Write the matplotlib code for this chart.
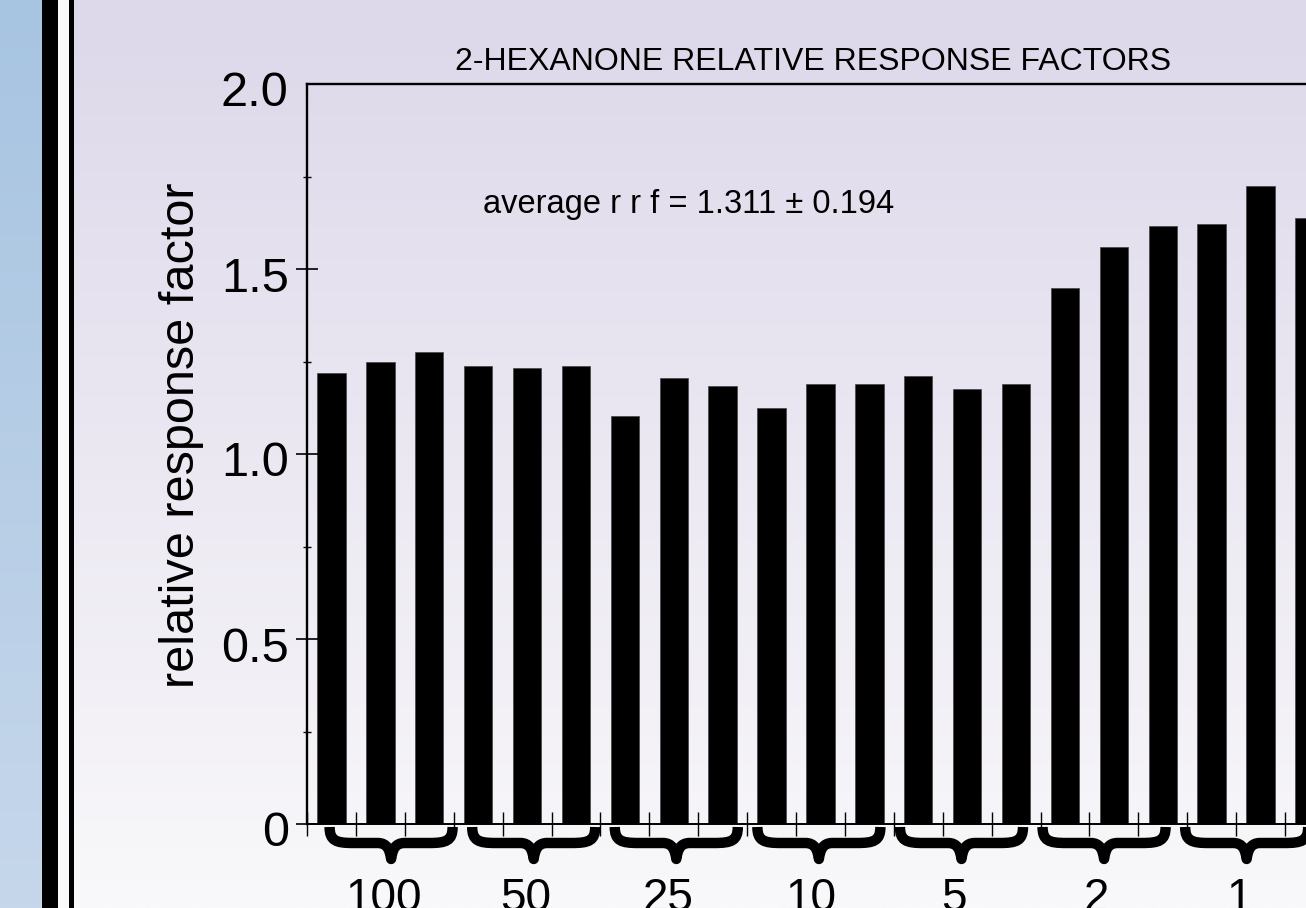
import numpy as np
import matplotlib
matplotlib.use("Agg")
import matplotlib.pyplot as plt
from matplotlib.path import Path
from matplotlib.patches import PathPatch, Rectangle
from matplotlib.transforms import ScaledTranslation

plt.rcParams['font.family'] = ['Liberation Sans', 'DejaVu Sans']

# ---------------- data ----------------
concentrations = ["100", "50", "25", "10", "5", "2", "1"]
rrf_values = [1.219, 1.249, 1.276,
              1.238, 1.232, 1.238,
              1.103, 1.205, 1.184,
              1.124, 1.189, 1.189,
              1.211, 1.176, 1.189,
              1.449, 1.559, 1.616,
              1.622, 1.724, 1.638]
y_ticks = [0, 0.5, 1.0, 1.5, 2.0]
y_ticklabels = ["0", "0.5", "1.0", "1.5", "2.0"]
y_minor = [0.25, 0.75, 1.25, 1.75]
title = "2-HEXANONE RELATIVE RESPONSE FACTORS"
ylabel = "relative response factor"
note = "average r r f = 1.311 \u00b1 0.194"

# ---------------- layout ----------------
W, H = 1306, 908
fig = plt.figure(figsize=(W / 100, H / 100), dpi=100)

def fx(px):
    return px / W

def fy(py):
    return 1 - py / H

# background
bg = fig.add_axes([0, 0, 1, 1])
bg.axis('off')
top_c = np.array([221, 216, 234]) / 255
bot_c = np.array([249, 248, 250]) / 255
t = np.linspace(0, 1, 256)[:, None, None]
grad = top_c * (1 - t) + bot_c * t
bg.imshow(grad, extent=(74, W, H, 0), aspect='auto', interpolation='bilinear')
btop = np.array([167, 196, 225]) / 255
bbot = np.array([198, 215, 235]) / 255
bgrad = btop * (1 - t) + bbot * t
bg.imshow(bgrad, extent=(0, 42, H, 0), aspect='auto', interpolation='bilinear')
bg.add_patch(Rectangle((42, 0), 16, H, color='black', lw=0))
bg.add_patch(Rectangle((58, 0), 11, H, color='#fafafa', lw=0))
bg.add_patch(Rectangle((69, 0), 5, H, color='black', lw=0))
bg.set_xlim(0, W)
bg.set_ylim(H, 0)

# main axes
unit = 48.9
x0, ybase, ytop = 307, 824, 84
xmax = 21.3
ax = fig.add_axes([fx(x0), fy(ybase), xmax * unit / W, (ybase - ytop) / H])
ax.patch.set_alpha(0)
ax.set_xlim(0, xmax)
ax.set_ylim(0, 2)

xpos = np.arange(len(rrf_values)) + 0.5
ax.bar(xpos, rrf_values, width=0.58, color='black', edgecolor='#444444', linewidth=0.5)

for s in ['left', 'top']:
    ax.spines[s].set_linewidth(1.7)
ax.spines['bottom'].set_linewidth(1.4)
ax.spines['right'].set_visible(False)

ax.set_yticks(y_ticks)
ax.set_yticklabels(y_ticklabels)
ax.set_yticks(y_minor, minor=True)
ax.tick_params(axis='y', which='major', direction='inout', length=16, width=1.2,
               labelsize=35, pad=3)
ax.tick_params(axis='y', which='minor', direction='inout', length=5.5, width=1.0)
ax.yaxis.get_major_ticks()[-1].tick1line.set_visible(False)
shift = ScaledTranslation(-0.03, -0.05, fig.dpi_scale_trans)
for lbl in ax.get_yticklabels():
    lbl.set_transform(lbl.get_transform() + shift)
ax.set_xticks(np.arange(0, 22))
ax.tick_params(axis='x', which='major', direction='inout', length=17, width=1.0,
               labelbottom=False)

# braces and group labels
def py2d(py):
    return (ybase - py) / 370.0

hw = 61.5 / unit
v_top, v_mid, v_tip = py2d(827), py2d(843), py2d(859)
for k, lab in enumerate(concentrations):
    c = 1.72 + 2.916 * k
    def P(u, v):
        return (c + u * hw, v)
    verts = [P(-1, v_top),
             P(-1, v_mid + (v_top - v_mid) * 0.15), P(-0.9, v_mid), P(-0.62, v_mid),
             P(-0.22, v_mid),
             P(-0.06, v_mid), P(-0.02, v_mid + (v_tip - v_mid) * 0.45), P(0, v_tip),
             P(0.02, v_mid + (v_tip - v_mid) * 0.45), P(0.06, v_mid), P(0.22, v_mid),
             P(0.62, v_mid),
             P(0.9, v_mid), P(1, v_mid + (v_top - v_mid) * 0.15), P(1, v_top)]
    codes = [Path.MOVETO,
             Path.CURVE4, Path.CURVE4, Path.CURVE4,
             Path.LINETO,
             Path.CURVE4, Path.CURVE4, Path.CURVE4,
             Path.CURVE4, Path.CURVE4, Path.CURVE4,
             Path.LINETO,
             Path.CURVE4, Path.CURVE4, Path.CURVE4]
    ax.add_patch(PathPatch(Path(verts, codes), facecolor='none', edgecolor='black',
                           lw=7.5, capstyle='butt', joinstyle='round', clip_on=False))
    ax.text(c - 0.16, py2d(911), lab, ha='center', va='baseline', fontsize=33,
            clip_on=False)

# texts
fig.text(fx(813), fy(70), title, ha='center', va='baseline', fontsize=23)
fig.text(fx(483), fy(213), note, ha='left', va='baseline', fontsize=23.5)
fig.text(fx(182), fy(435), ylabel, ha='center', va='center', rotation=90, fontsize=35)

fig.savefig('out.png', dpi=100)
